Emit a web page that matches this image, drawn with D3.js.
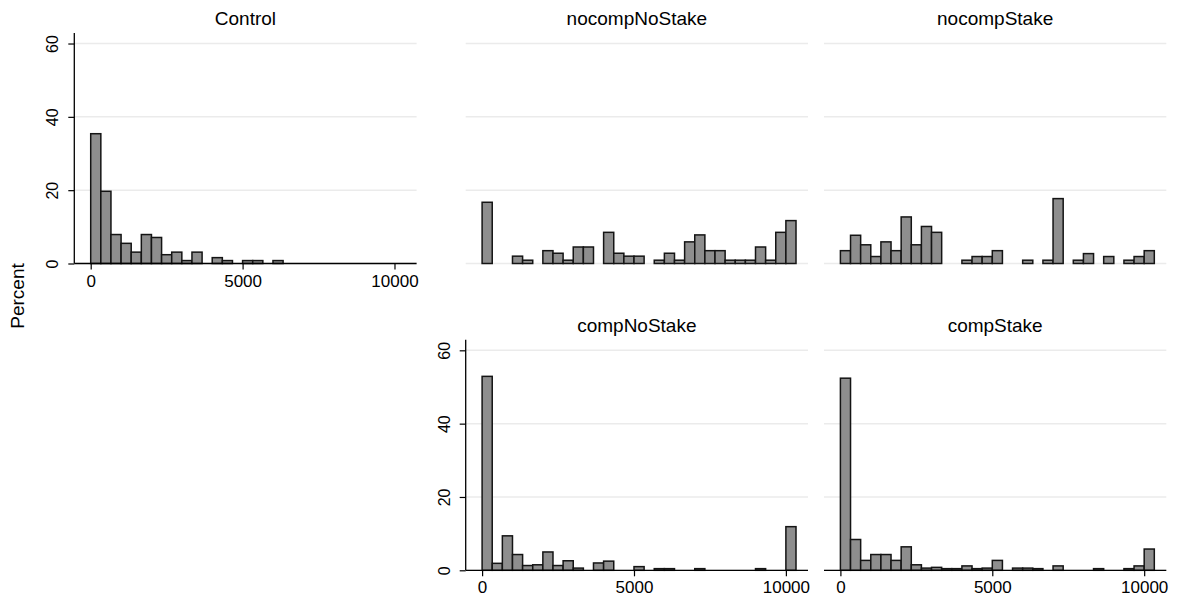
<!DOCTYPE html>
<html>
<head>
<meta charset="utf-8">
<script src="https://cdn.jsdelivr.net/npm/d3@7"></script>
<style>
  html, body { margin: 0; padding: 0; background: #ffffff; }
  svg { display: block; font-family: "Liberation Sans", Arial, Helvetica, sans-serif; }
</style>
</head>
<body>
<svg id="chart" width="1177" height="601"></svg>
<script>
// ---- data ----
const binWidth = 10000 / 30;
const categories = ["Control", "nocompNoStake", "nocompStake", "compNoStake", "compStake"];
const xTicks = [0, 5000, 10000];
const yTicks = [0, 20, 40, 60];
const yLabel = "Percent";

const controlPct = [35.4, 19.7, 7.9, 5.5, 3.1, 7.9, 7.1, 2.4, 3.1, 0.8, 3.1, 0, 1.6, 0.8, 0, 0.8, 0.8, 0, 0.8, 0, 0, 0, 0, 0, 0, 0, 0, 0, 0, 0, 0];
const nocompNoStakePct = [16.7, 0, 0, 2.0, 0.9, 0, 3.5, 2.8, 0.9, 4.5, 4.5, 0, 8.5, 2.8, 2.0, 2.0, 0, 0.9, 2.8, 0.9, 5.9, 7.8, 3.5, 3.5, 0.9, 0.9, 0.9, 4.5, 0.9, 8.5, 11.7];
const nocompStakePct = [3.5, 7.7, 5.1, 1.9, 5.9, 3.5, 12.7, 5.1, 10.1, 8.5, 0, 0, 0.9, 1.9, 1.9, 3.5, 0, 0, 0.9, 0, 0.9, 17.7, 0, 0.9, 2.7, 0, 1.9, 0, 0.9, 1.9, 3.5];
const compNoStakePct = [52.9, 1.9, 9.4, 4.3, 1.3, 1.5, 5.0, 1.3, 2.6, 0.6, 0, 2.0, 2.5, 0, 0, 1.0, 0, 0.45, 0.45, 0, 0, 0.45, 0, 0, 0, 0, 0, 0.45, 0, 0, 11.9];
const compStakePct = [52.4, 8.4, 2.7, 4.3, 4.3, 2.7, 6.4, 1.5, 0.6, 0.8, 0.45, 0.45, 1.2, 0.45, 0.6, 2.7, 0, 0.6, 0.6, 0.45, 0, 1.2, 0, 0, 0, 0.45, 0, 0, 0.45, 1.2, 5.8];

const seriesValues = [controlPct, nocompNoStakePct, nocompStakePct, compNoStakePct, compStakePct];

// ---- layout ----
const colLeft = [74.3, 465.7, 824];
const plotW = 342.3;
const rowTop = [33, 339.8];
const plotH = 230.5;
const panels = [
  { col: 0, row: 0, xAxis: true,  yAxis: true },
  { col: 1, row: 0, xAxis: false, yAxis: false },
  { col: 2, row: 0, xAxis: false, yAxis: false },
  { col: 1, row: 1, xAxis: true,  yAxis: true },
  { col: 2, row: 1, xAxis: true,  yAxis: false }
];

const svg = d3.select("#chart");
const fill = "#8e8e8e";
const stroke = "#141414";
const gridColor = "#ebebeb";

panels.forEach((p, i) => {
  const left = colLeft[p.col];
  const top = rowTop[p.row];
  const x = d3.scaleLinear().domain([-540, 10728]).range([left, left + plotW]);
  const y = d3.scaleLinear().domain([0, 62.87]).range([top + plotH, top]);
  const g = svg.append("g");

  // gridlines
  g.selectAll("line.grid").data(yTicks).enter().append("line")
    .attr("x1", left).attr("x2", left + plotW)
    .attr("y1", d => y(d)).attr("y2", d => y(d))
    .attr("stroke", gridColor).attr("stroke-width", 1.5);

  // bars
  const bins = seriesValues[i].map((v, k) => ({ x0: k * binWidth, x1: (k + 1) * binWidth, v }))
    .filter(d => d.v > 0);
  g.selectAll("rect.bar").data(bins).enter().append("rect")
    .attr("x", d => x(d.x0))
    .attr("width", d => x(d.x1) - x(d.x0))
    .attr("y", d => y(d.v))
    .attr("height", d => y(0) - y(d.v))
    .attr("fill", fill)
    .attr("stroke", stroke)
    .attr("stroke-width", 1.5);

  // title
  g.append("text")
    .attr("x", left + plotW / 2)
    .attr("y", top - 8)
    .attr("text-anchor", "middle")
    .attr("font-size", 19)
    .attr("fill", "#000")
    .text(categories[i]);

  if (p.xAxis) {
    const ax = g.append("g").attr("transform", `translate(0,${y(0)})`)
      .call(d3.axisBottom(x).tickValues(xTicks).tickFormat(d3.format("d")).tickSize(6).tickSizeOuter(0).tickPadding(5));
    ax.select(".domain").remove();
    ax.append("line").attr("x1", left).attr("x2", left + plotW).attr("y1", 0).attr("y2", 0)
      .attr("stroke", "#000").attr("stroke-width", 1.3);
    ax.selectAll(".tick line").attr("stroke", "#000").attr("stroke-width", 1.2);
    ax.selectAll(".tick text").attr("font-size", 17).attr("fill", "#000")
      .attr("font-family", "Liberation Sans, Arial, sans-serif");
  }
  if (p.yAxis) {
    const ay = g.append("g").attr("transform", `translate(${left},0)`)
      .call(d3.axisLeft(y).tickValues(yTicks).tickSize(6).tickSizeOuter(0));
    ay.select(".domain").remove();
    ay.append("line").attr("x1", 0).attr("x2", 0).attr("y1", top).attr("y2", y(0))
      .attr("stroke", "#000").attr("stroke-width", 1.3);
    ay.selectAll(".tick line").attr("stroke", "#000").attr("stroke-width", 1.2);
    ay.selectAll(".tick text")
      .attr("font-size", 16).attr("fill", "#000")
      .attr("font-family", "Liberation Sans, Arial, sans-serif")
      .attr("x", null).attr("dy", null)
      .attr("text-anchor", "middle")
      .attr("transform", "translate(-16,0) rotate(-90)")
      .attr("y", 0);
  }
});

// y axis label
svg.append("text")
  .attr("transform", "translate(24,296) rotate(-90)")
  .attr("text-anchor", "middle")
  .attr("font-size", 19)
  .attr("fill", "#000")
  .text(yLabel);
</script>
</body>
</html>
